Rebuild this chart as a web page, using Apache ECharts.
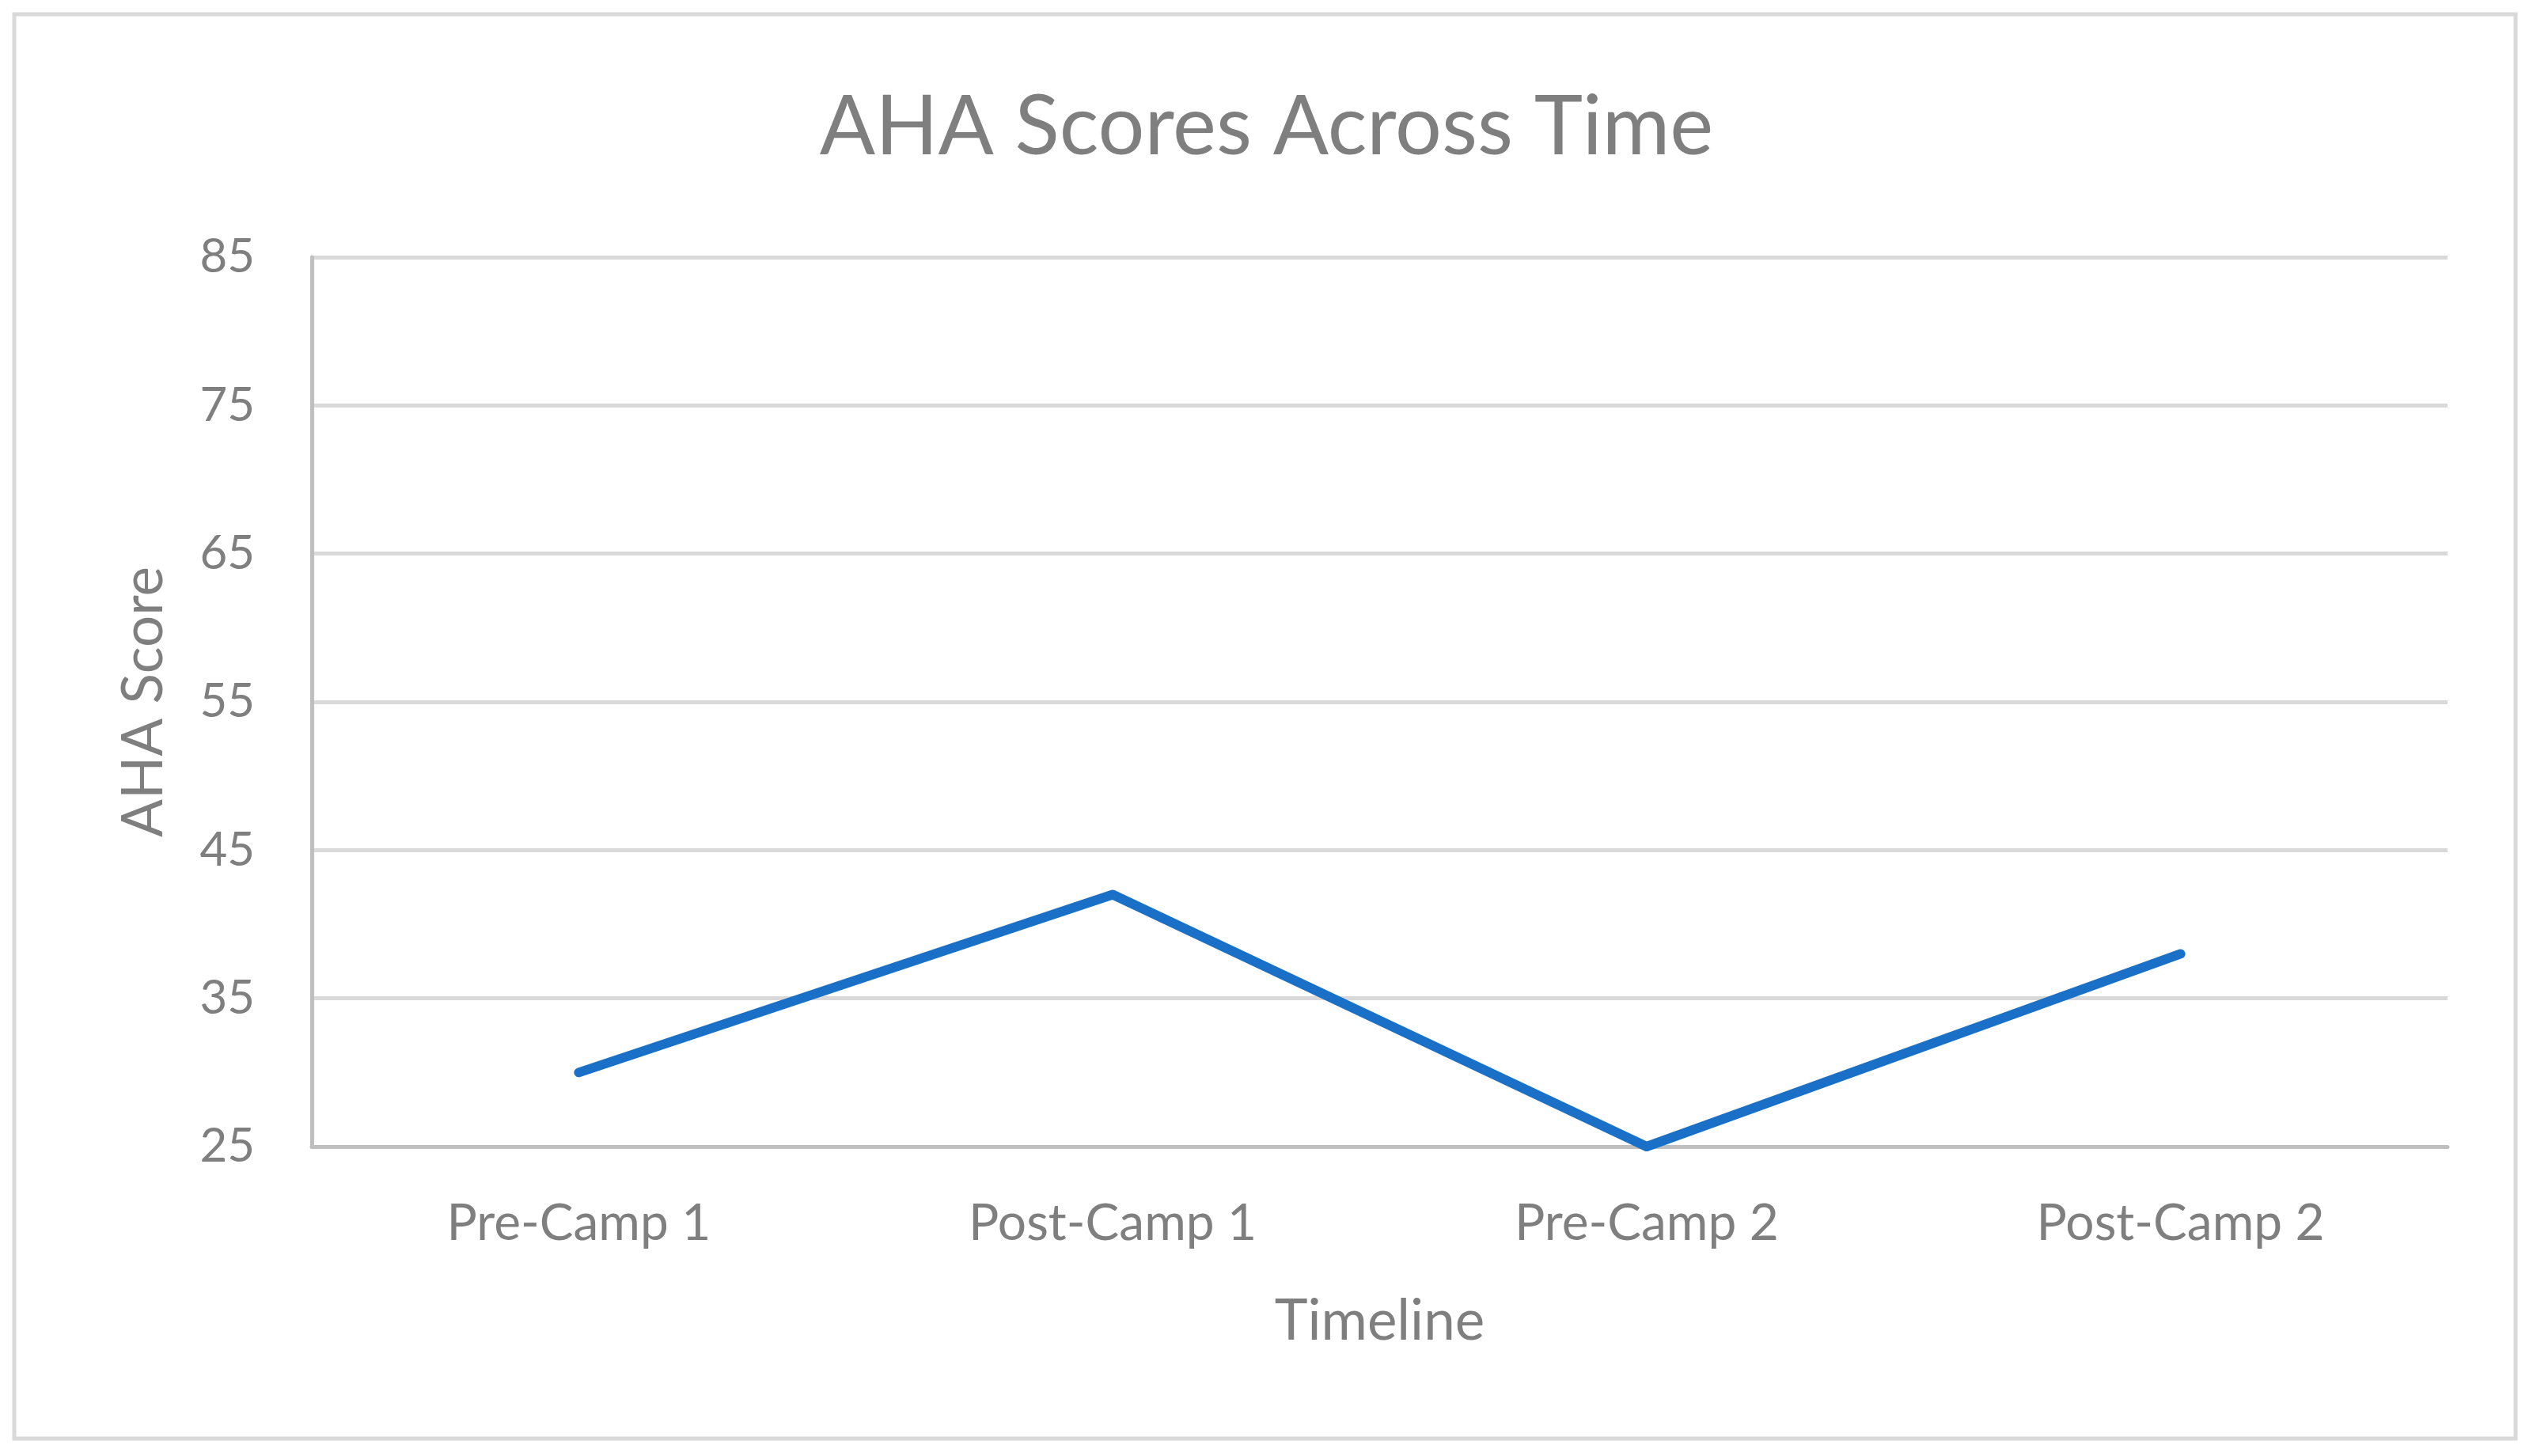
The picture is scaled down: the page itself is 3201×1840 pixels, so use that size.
<!DOCTYPE html>
<html>
<head>
<meta charset="utf-8">
<script src="https://cdn.jsdelivr.net/npm/echarts@6/dist/echarts.min.js"></script>
<style>
html,body{margin:0;padding:0;background:#fff;}
#chart{width:3201px;height:1840px;}
</style>
</head>
<body>
<div id="chart"></div>
<script>
const titleText = 'AHA Scores Across Time';
const categories = ['Pre-Camp 1', 'Post-Camp 1', 'Pre-Camp 2', 'Post-Camp 2'];
const scores = [30, 42, 25, 38];
const xAxisName = 'Timeline';
const yAxisName = 'AHA Score';

const chart = echarts.init(document.getElementById('chart'));
const FONT = 'Lato, "Open Sans", sans-serif';
const GRAY = '#7f7f7f';
chart.setOption({
  backgroundColor: '#ffffff',
  animation: false,
  graphic: [{
    type: 'rect',
    shape: { x: 18, y: 18, width: 3161, height: 1800 },
    style: { fill: 'none', stroke: '#d9d9d9', lineWidth: 5 },
    silent: true
  }],
  title: {
    text: titleText,
    left: 'center',
    top: 104,
    textStyle: { fontFamily: FONT, fontSize: 104, fontWeight: 'normal', color: GRAY }
  },
  grid: { left: 394, right: 108, top: 325, bottom: 391, containLabel: false },
  xAxis: {
    type: 'category',
    data: categories,
    boundaryGap: true,
    name: xAxisName,
    nameLocation: 'middle',
    nameGap: 186,
    nameTextStyle: { fontFamily: FONT, fontSize: 71, color: GRAY },
    axisLine: { show: true, lineStyle: { color: '#bfbfbf', width: 5 } },
    axisTick: { show: false },
    axisLabel: { fontFamily: FONT, fontSize: 64, color: GRAY, margin: 65 },
    splitLine: { show: false }
  },
  yAxis: {
    type: 'value',
    min: 25, max: 85, interval: 10,
    name: yAxisName,
    nameLocation: 'middle',
    nameGap: 176,
    nameRotate: 90,
    nameTextStyle: { fontFamily: FONT, fontSize: 71, color: GRAY },
    axisLine: { show: true, lineStyle: { color: '#bfbfbf', width: 5 } },
    axisTick: { show: false },
    axisLabel: { fontFamily: FONT, fontSize: 60, color: GRAY, margin: 72 },
    splitLine: { show: true, lineStyle: { color: '#d9d9d9', width: 5 } }
  },
  series: [{
    type: 'line',
    data: scores,
    symbol: 'none',
    lineStyle: { color: '#1a70c6', width: 12, cap: 'round', join: 'round' },
    itemStyle: { color: '#1a70c6' }
  }]
});
</script>
</body>
</html>
